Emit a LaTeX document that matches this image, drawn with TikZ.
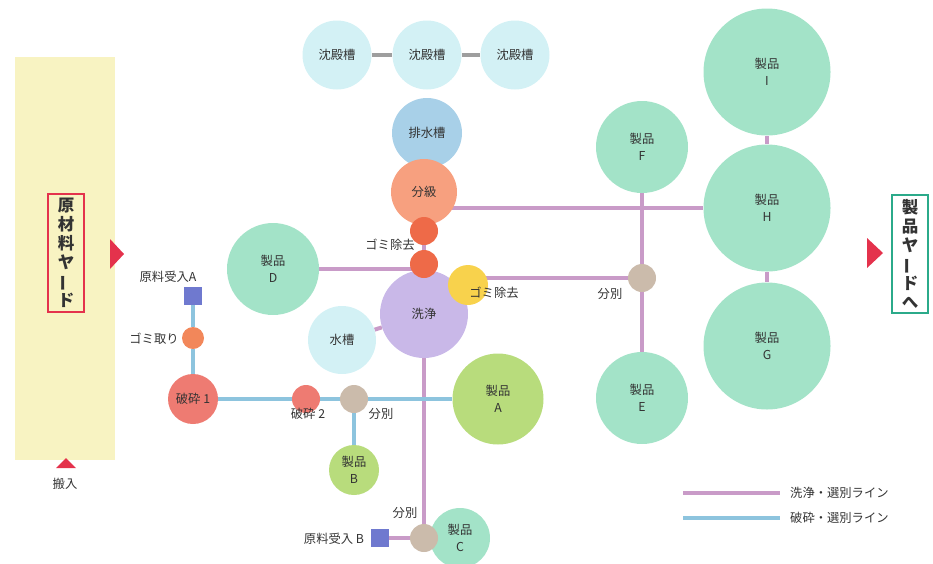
\documentclass[tikz,border=0pt]{standalone}
\usepackage{fontspec}
\setmainfont{Noto Sans CJK JP}
\usetikzlibrary{backgrounds}

% palette
\definecolor{ink}{HTML}{333333}
\definecolor{yardc}{HTML}{F8F3C2}
\definecolor{redc}{HTML}{E4324C}
\definecolor{greenbox}{HTML}{2BAA8A}
\definecolor{tankc}{HTML}{D3F1F5}
\definecolor{draincl}{HTML}{A8D0E8}
\definecolor{classc}{HTML}{F7A07F}
\definecolor{dustc}{HTML}{EE6A48}
\definecolor{dustlc}{HTML}{F2875A}
\definecolor{dustyc}{HTML}{F8D24C}
\definecolor{washcl}{HTML}{C9B8E8}
\definecolor{mintc}{HTML}{A3E3C8}
\definecolor{limec}{HTML}{B8DC7C}
\definecolor{crushcl}{HTML}{EE7B72}
\definecolor{sortc}{HTML}{CBBBAB}
\definecolor{feedc}{HTML}{6F79CF}
\definecolor{washline}{HTML}{C99BC8}
\definecolor{crushline}{HTML}{8DC4DE}
\definecolor{pipec}{HTML}{9E9E9E}

\newcommand\lblfont{\fontsize{12.3}{17}\selectfont}
\newcommand\vfont{\fontsize{16.5}{19}\selectfont\bfseries}
\newcommand\vbar{\rotatebox[origin=c]{90}{ー}}

\tikzset{
  ball/.style={circle, inner sep=0pt, align=center, font=\lblfont, text=ink},
  feed/.style={rectangle, inner sep=0pt, minimum size=18, fill=feedc},
  lbl/.style={font=\lblfont, text=ink, inner sep=1pt},
  washln/.style={draw=washline, line width=4pt},
  crushln/.style={draw=crushline, line width=4pt},
  pipeln/.style={draw=pipec, line width=4pt},
  vbox/.style={draw, line width=1.6pt, inner sep=0pt, minimum width=36,
    minimum height=118, align=center, font=\vfont, text=ink},
  marker/.style={fill=redc},
}

\begin{document}
\begin{tikzpicture}[x=1pt,y=-1pt]
\useasboundingbox (0,0) rectangle (933,563);

% raw material yard
\fill[yardc] (15,57) rectangle (115,460);
\node[vbox, draw=redc] (rawyard) at (66,253) {原\\材\\料\\ヤ\\\vbar\\ド};
\fill[marker] (110,239) -- (124,254) -- (110,269) -- cycle;
\fill[marker] (56,468) -- (66,458) -- (76,468) -- cycle;
\node[lbl] (carryin) at (65,484) {搬入};

% product yard
\node[vbox, draw=greenbox] (prodyard) at (910,254) {製\\品\\ヤ\\\vbar\\ド\\へ};
\fill[marker] (867,238) -- (883,253) -- (867,268) -- cycle;

% settling tanks
\node[ball, fill=tankc, minimum size=69] (s1) at (337,55) {沈殿槽};
\node[ball, fill=tankc, minimum size=69] (s2) at (427,55) {沈殿槽};
\node[ball, fill=tankc, minimum size=69] (s3) at (515,55) {沈殿槽};

% washing line
\node[ball, fill=draincl, minimum size=70] (drain) at (427,133) {排水槽};
\node[ball, fill=classc, minimum size=66] (classify) at (424,192) {分級};
\node[ball, fill=washcl, minimum size=88] (wash) at (424,314) {洗浄};
\node[ball, fill=dustc, minimum size=28] (dust1) at (424,231) {};
\node[ball, fill=dustc, minimum size=28] (dust2) at (424,264) {};
\node[ball, fill=dustyc, minimum size=40] (dust3) at (468,285) {};
\node[ball, fill=tankc, minimum size=68] (water) at (342,340) {水槽};
\node[ball, fill=mintc, minimum size=92] (pD) at (273,269) {製品\\D};

\node[lbl] at (390,245) {ゴミ除去};
\node[lbl] at (494,293) {ゴミ除去};

% crushing line
\node[feed] (feedA) at (193,296) {};
\node[lbl] at (168,277) {原料受入A};
\node[ball, fill=dustlc, minimum size=22] (dustA) at (193,338) {};
\node[lbl] at (154,339) {ゴミ取り};
\node[ball, fill=crushcl, minimum size=50] (crush1) at (193,399) {破砕 1};
\node[ball, fill=crushcl, minimum size=28] (crush2) at (306,399) {};
\node[lbl] at (308,414) {破砕 2};
\node[ball, fill=sortc, minimum size=28] (sortA) at (354,399) {};
\node[lbl] at (381,414) {分別};
\node[ball, fill=limec, minimum size=50] (pB) at (354,470) {製品\\B};
\node[ball, fill=limec, minimum size=91] (pA) at (498,399) {製品\\A};

% raw material B
\node[ball, fill=mintc, minimum size=60] (pC) at (460,538) {製品\\C};
\node[ball, fill=sortc, minimum size=28] (sortC) at (424,538) {};
\node[lbl] at (405,513) {分別};
\node[feed] (feedB) at (380,538) {};
\node[lbl] at (334,539) {原料受入 B};

% products on the right
\node[ball, fill=mintc, minimum size=92] (pF) at (642,147) {製品\\F};
\node[ball, fill=sortc, minimum size=28] (sortR) at (642,278) {};
\node[lbl] at (610,294) {分別};
\node[ball, fill=mintc, minimum size=92] (pE) at (642,398) {製品\\E};
\node[ball, fill=mintc, minimum size=127] (pI) at (767,72) {製品\\I};
\node[ball, fill=mintc, minimum size=127] (pH) at (767,208) {製品\\H};
\node[ball, fill=mintc, minimum size=127] (pG) at (767,346) {製品\\G};

% legend
\coordinate (lw1) at (683,493);
\coordinate (lw2) at (780,493);
\coordinate (lc1) at (683,518);
\coordinate (lc2) at (780,518);
\node[lbl, anchor=west] at (789,493) {洗浄・選別ライン};
\node[lbl, anchor=west] at (789,518) {破砕・選別ライン};

\begin{scope}[on background layer]
  \draw[pipeln] (s1) -- (s2) -- (s3);
  % washing / sorting line
  \draw[washln] (classify) -- (dust1) -- (dust2) -- (wash);
  \draw[washln] (classify.center |- pH.center) -- (pH);
  \draw[washln] (pD) -- (pD -| dust2);
  \draw[washln] (dust3.center |- sortR.center) -- (sortR);
  \draw[washln] (water) -- (wash);
  \draw[washln] (wash) -- (sortC);
  \draw[washln] (feedB) -- (sortC);
  \draw[washln] (pF) -- (sortR) -- (pE);
  \draw[washln] (pI) -- (pH) -- (pG);
  \draw[washln] (lw1) -- (lw2);
  % crushing / sorting line
  \draw[crushln] (feedA) -- (dustA) -- (crush1);
  \draw[crushln] (crush1) -- (crush2) -- (sortA) -- (pA);
  \draw[crushln] (sortA) -- (pB);
  \draw[crushln] (lc1) -- (lc2);
\end{scope}
\end{tikzpicture}
\end{document}
